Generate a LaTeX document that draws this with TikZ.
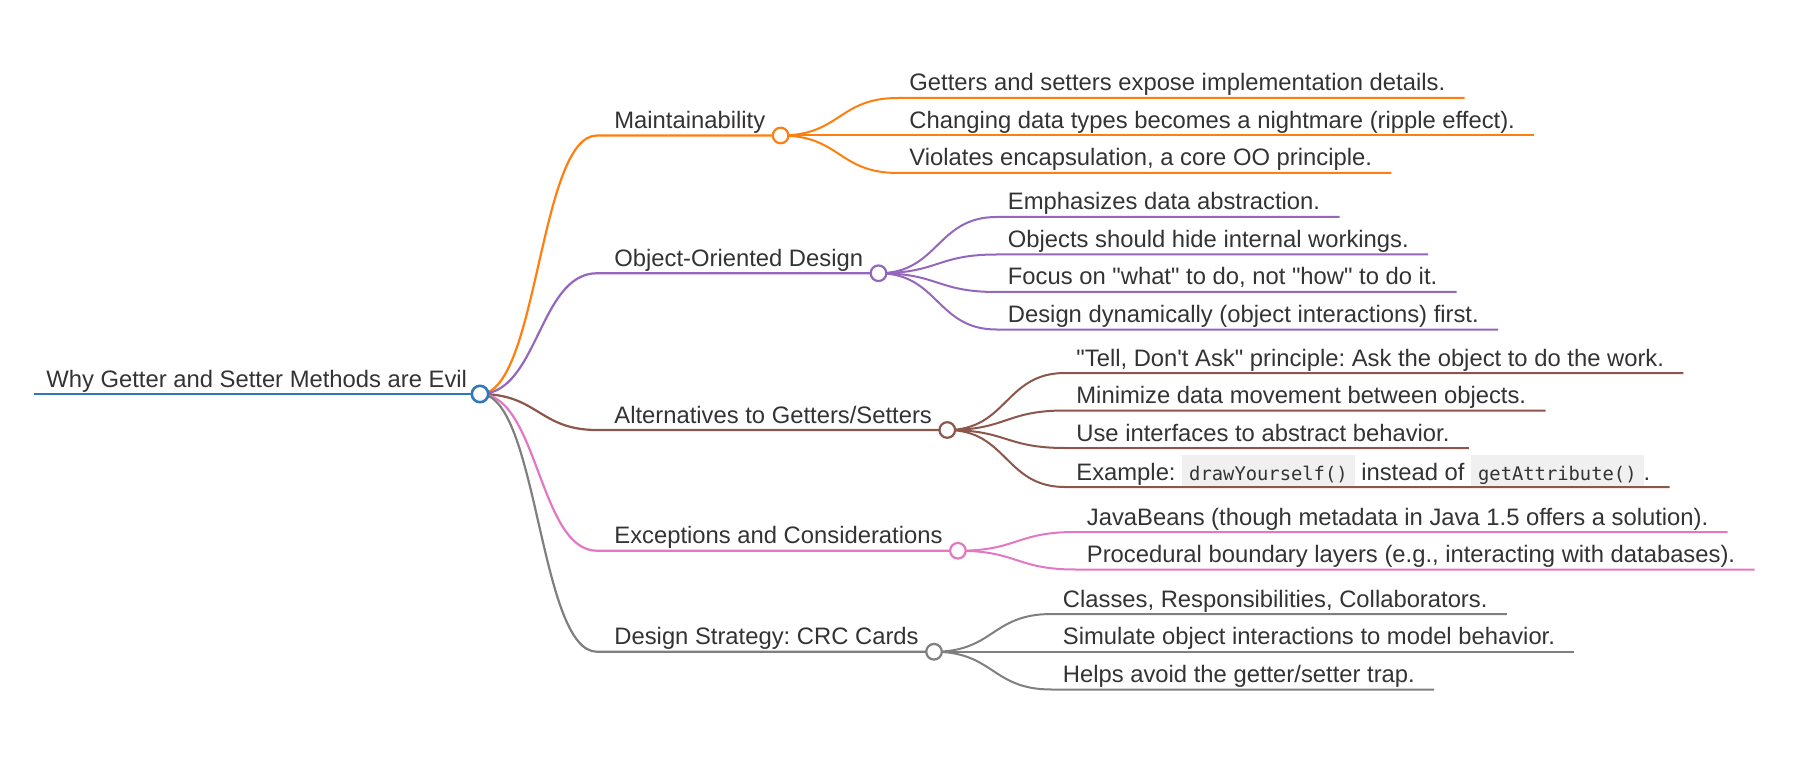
\documentclass[tikz,border=0pt]{standalone}
\usepackage{fontspec}
\setmainfont{Liberation Sans}[Ligatures=TeXOff]
\newfontfamily\codefont{DejaVu Sans Mono}
\frenchspacing
\definecolor{txt}{HTML}{333333}
\definecolor{cRoot}{HTML}{2F78BA}
\definecolor{cOr}{HTML}{FF7F0E}
\definecolor{cPu}{HTML}{9467BD}
\definecolor{cBr}{HTML}{8C564B}
\definecolor{cPi}{HTML}{E377C2}
\definecolor{cGr}{HTML}{7F7F7F}
\definecolor{codebg}{HTML}{F0F0F0}
\newcommand\codebox[1]{{\setlength\fboxsep{0pt}\colorbox{codebg}{\rule[-3.5pt]{0pt}{16pt}\hspace{3.5pt}{\codefont\fontsize{9.4pt}{11pt}\selectfont #1}\hspace{3.5pt}}}}
\tikzset{
  lbl/.style={anchor=base west, inner sep=0pt, text=txt, font=\fontsize{11.9pt}{14pt}\selectfont},
  rootline/.style={line width=1.4pt, draw=cRoot},
  bline/.style={line width=1.1pt},
  leafline/.style={line width=1pt},
  rootdot/.style={circle, draw=cRoot, line width=1.3pt, fill=white, inner sep=0pt, minimum size=8.2pt},
  bdot/.style={circle, line width=1.1pt, fill=white, inner sep=0pt, minimum size=7.8pt},
}
\begin{document}
\begin{tikzpicture}[x=0.5pt, y=-0.5pt]
\useasboundingbox (0,0) rectangle (1793,759);
% root
\node[lbl] (root) at (46,387) {Why Getter and Setter Methods are Evil};
\coordinate (rc) at (480,394);
\coordinate (r0) at (34,394);
% branch labels
\node[lbl] (b1) at (614,128.5) {Maintainability};
\node[lbl] (b2) at (614,266.25) {Object-Oriented Design};
\node[lbl] (b3) at (614,423) {Alternatives to Getters/Setters};
\node[lbl] (b4) at (614,543.75) {Exceptions and Considerations};
\node[lbl] (b5) at (614,644.75) {Design Strategy: CRC Cards};
\coordinate (b1c) at ([xshift=7.5pt,yshift=-3.5pt]b1.base east);
\coordinate (b2c) at ([xshift=7.5pt,yshift=-3.5pt]b2.base east);
\coordinate (b3c) at ([xshift=7.5pt,yshift=-3.5pt]b3.base east);
\coordinate (b4c) at ([xshift=7.5pt,yshift=-3.5pt]b4.base east);
\coordinate (b5c) at ([xshift=7.5pt,yshift=-3.5pt]b5.base east);
\coordinate (b1s) at (597,135.5);
\coordinate (b2s) at (597,273.25);
\coordinate (b3s) at (597,430);
\coordinate (b4s) at (597,550.75);
\coordinate (b5s) at (597,651.75);
% leaves
\node[lbl] (m1) at (909,91) {Getters and setters expose implementation details.};
\node[lbl] (m2) at (909,128.5) {Changing data types becomes a nightmare (ripple effect).};
\node[lbl] (m3) at (909,166) {Violates encapsulation, a core OO principle.};
\node[lbl] (o1) at (1007.5,210) {Emphasizes data abstraction.};
\node[lbl] (o2) at (1007.5,247.5) {Objects should hide internal workings.};
\node[lbl] (o3) at (1007.5,285) {Focus on "what" to do, not "how" to do it.};
\node[lbl] (o4) at (1007.5,322.5) {Design dynamically (object interactions) first.};
\node[lbl] (a1) at (1076,366) {"Tell, Don't Ask" principle: Ask the object to do the work.};
\node[lbl] (a2) at (1076,403.5) {Minimize data movement between objects.};
\node[lbl] (a3) at (1076,441) {Use interfaces to abstract behavior.};
\node[lbl] (a4) at (1076,480) {Example: \codebox{drawYourself()} instead of \codebox{getAttribute()}.};
\node[lbl] (e1) at (1086.5,525) {JavaBeans (though metadata in Java 1.5 offers a solution).};
\node[lbl] (e2) at (1086.5,562.5) {Procedural boundary layers (e.g., interacting with databases).};
\node[lbl] (c1) at (1062.5,607) {Classes, Responsibilities, Collaborators.};
\node[lbl] (c2) at (1062.5,644.75) {Simulate object interactions to model behavior.};
\node[lbl] (c3) at (1062.5,682.5) {Helps avoid the getter/setter trap.};
% root line
\draw[rootline] (r0) -- (rc);
% branch connectors
\draw[bline, cOr] (rc) .. controls +(58,0) and +(-58,0) .. (b1s) -- (b1c);
\draw[bline, cPu] (rc) .. controls +(58,0) and +(-58,0) .. (b2s) -- (b2c);
\draw[bline, cBr] (rc) .. controls +(58,0) and +(-58,0) .. (b3s) -- (b3c);
\draw[bline, cPi] (rc) .. controls +(58,0) and +(-58,0) .. (b4s) -- (b4c);
\draw[bline, cGr] (rc) .. controls +(58,0) and +(-58,0) .. (b5s) -- (b5c);
% leaf connectors
\foreach \b/\n/\c in {b1c/m1/cOr, b1c/m2/cOr, b1c/m3/cOr,
                      b2c/o1/cPu, b2c/o2/cPu, b2c/o3/cPu, b2c/o4/cPu,
                      b3c/a1/cBr, b3c/a2/cBr, b3c/a3/cBr, b3c/a4/cBr,
                      b4c/e1/cPi, b4c/e2/cPi,
                      b5c/c1/cGr, b5c/c2/cGr, b5c/c3/cGr}{
  \draw[leafline, \c] (\b) .. controls +(60,0) and +(-60,0) .. ([xshift=-5.5pt,yshift=-3.5pt]\n.base west) -- ([xshift=9.5pt,yshift=-3.5pt]\n.base east);
}
% circles
\node[rootdot] (rcd) at (rc) {};
\node[bdot, draw=cOr] (b1d) at (b1c) {};
\node[bdot, draw=cPu] (b2d) at (b2c) {};
\node[bdot, draw=cBr] (b3d) at (b3c) {};
\node[bdot, draw=cPi] (b4d) at (b4c) {};
\node[bdot, draw=cGr] (b5d) at (b5c) {};
\end{tikzpicture}
\end{document}
